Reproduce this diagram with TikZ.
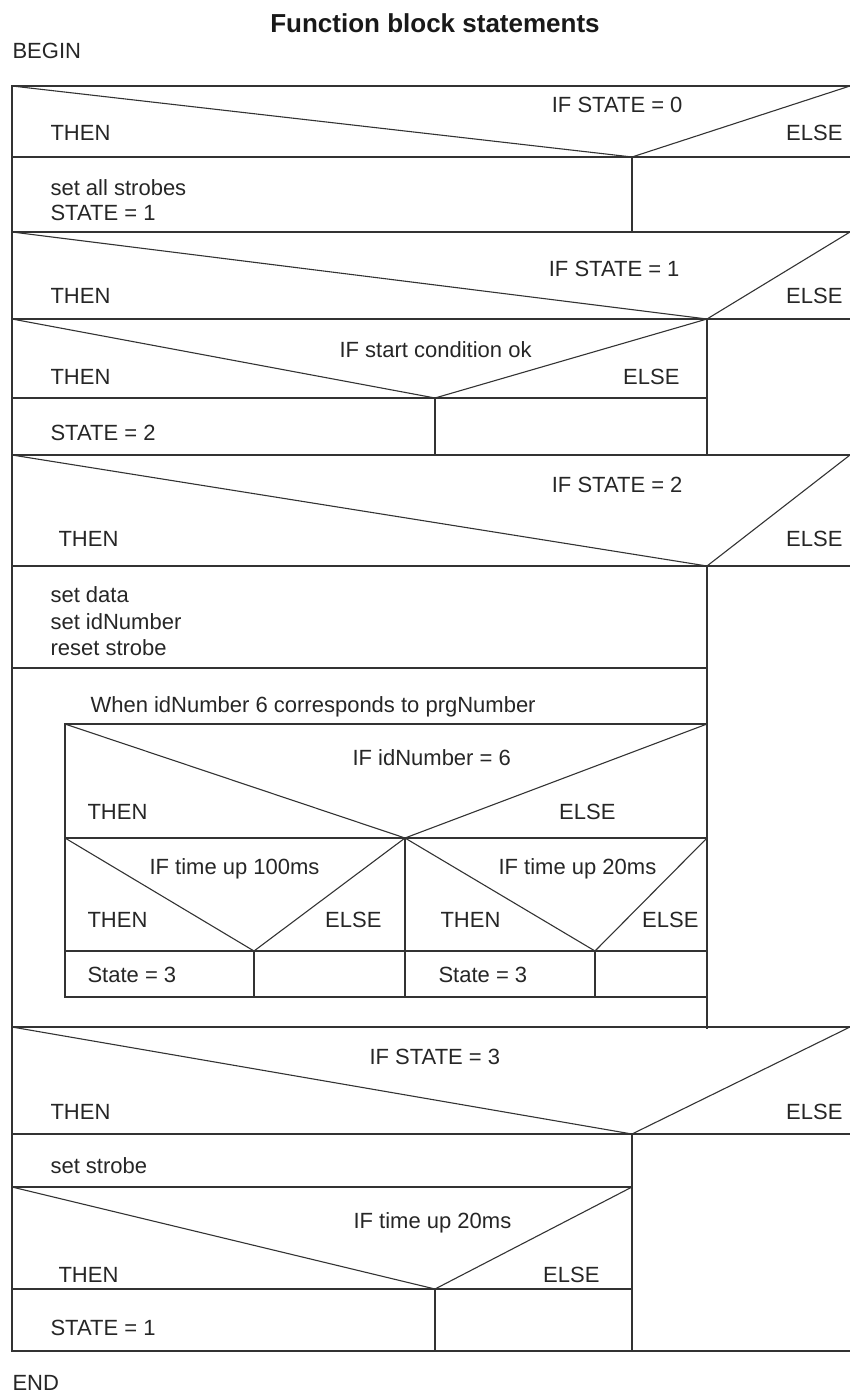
\documentclass[tikz,border=0pt]{standalone}
\usepackage{fontspec}
\setmainfont{Liberation Sans}

\begin{document}
\begin{tikzpicture}[x=1pt,y=-1pt,line width=1.1pt,draw=black!80,
  lbl/.style={anchor=base west,inner sep=0pt,text=black!85,font=\fontsize{22}{26}\selectfont},
  rlbl/.style={lbl,anchor=base east},
  ttl/.style={anchor=base,inner sep=0pt,text=black!90,font=\fontsize{26}{30}\selectfont\bfseries}]
  \useasboundingbox (0,0) rectangle (850,1392);

  \node[ttl] (title) at (435,32) {Function block statements};
  \node[lbl] (begin) at (12,58) {BEGIN};
  \node[lbl] (end) at (12,1390) {END};

  % frame
  \coordinate (TL) at (12,86);
  \coordinate (TR) at (850,86);
  \coordinate (BL) at (12,1351);
  \coordinate (BR) at (850,1351);
  \draw (TR) -- (TL) -- (BL) -- (BR);

  % IF STATE = 0
  \coordinate (IaA) at (632,157);
  \coordinate (IaL) at (12,157);
  \coordinate (IaR) at (850,157);
  \coordinate (IaD) at (632,232);
  \coordinate (IbL) at (12,232);
  \coordinate (IbR) at (850,232);
  \draw (TL) -- (IaA) -- (TR);
  \draw (IaL) -- (IaR);
  \draw (IaA) -- (IaD);
  \draw (IbL) -- (IbR);
  \node[rlbl] (ifa) at (683,112) {IF STATE = 0};
  \node[lbl] (thena) at (50,140) {THEN};
  \node[rlbl] (elsea) at (843,140) {ELSE};
  \node[lbl] (seta) at (50,195) {set all strobes};
  \node[lbl] (stata) at (50,220) {STATE = 1};

  % IF STATE = 1
  \coordinate (IbA) at (707,319);
  \coordinate (IbL1) at (12,319);
  \coordinate (IbR1) at (850,319);
  \coordinate (IcA) at (435,398);
  \coordinate (IcL) at (12,398);
  \coordinate (IcD) at (435,455);
  \coordinate (IbD) at (707,455);
  \coordinate (IdL) at (12,455);
  \coordinate (IdR) at (850,455);
  \draw (IbL) -- (IbA) -- (IbR);
  \draw (IbL1) -- (IbR1);
  \draw (IbL1) -- (IcA) -- (IbA);
  \draw (IcL) -- (IcL -| IbA);
  \draw (IcA) -- (IcD);
  \draw (IbA) -- (IbD);
  \draw (IdL) -- (IdR);
  \node[rlbl] (ifb) at (680,276) {IF STATE = 1};
  \node[lbl] (thenb) at (50,303) {THEN};
  \node[rlbl] (elseb) at (843,303) {ELSE};
  \node[lbl] (ifc) at (339,357) {IF start condition ok};
  \node[lbl] (thenc) at (50,384) {THEN};
  \node[rlbl] (elsec) at (680,384) {ELSE};
  \node[lbl] (statb) at (50,440) {STATE = 2};

  % IF STATE = 2
  \coordinate (IdA) at (707,566);
  \coordinate (IdL1) at (12,566);
  \coordinate (IdR1) at (850,566);
  \coordinate (IdE) at (12,668);
  \coordinate (IdD) at (707,1029);
  \draw (IdL) -- (IdA) -- (IdR);
  \draw (IdL1) -- (IdR1);
  \draw (IdE) -- (IdE -| IdA);
  \draw (IdA) -- (IdD);
  \node[rlbl] (ifd) at (683,492) {IF STATE = 2};
  \node[lbl] (thend) at (58,546) {THEN};
  \node[rlbl] (elsed) at (843,546) {ELSE};
  \node[lbl] (setd) at (50,602) {set data};
  \node[lbl] (setid) at (50,629) {set idNumber};
  \node[lbl] (reset) at (50,655) {reset strobe};
  \node[lbl] (when) at (90,712) {When idNumber 6 corresponds to prgNumber};

  % inner box
  \coordinate (NTL) at (65,724);
  \coordinate (NTR) at (707,724);
  \coordinate (NBL) at (65,997);
  \coordinate (NBR) at (707,997);
  \coordinate (NA) at (405,838);
  \coordinate (NL) at (65,838);
  \coordinate (NR) at (707,838);
  \coordinate (NlA) at (254,951);
  \coordinate (NrA) at (595,951);
  \coordinate (NL1) at (65,951);
  \coordinate (NR1) at (707,951);
  \draw (NTR) -- (NTL) -- (NBL) -- (NBR);
  \draw (NTL) -- (NA) -- (NTR);
  \draw (NL) -- (NR);
  \draw (NL) -- (NlA) -- (NA) -- (NrA) -- (NR);
  \draw (NA) -- (NA |- NBL);
  \draw (NL1) -- (NR1);
  \draw (NlA) -- (NlA |- NBL);
  \draw (NrA) -- (NrA |- NBL);
  \node[lbl] (ifn) at (352,765) {IF idNumber = 6};
  \node[lbl] (thenn) at (87,819) {THEN};
  \node[rlbl] (elsen) at (616,819) {ELSE};
  \node[lbl] (ifnl) at (149,874) {IF time up 100ms};
  \node[lbl] (thennl) at (87,927) {THEN};
  \node[rlbl] (elsenl) at (382,927) {ELSE};
  \node[lbl] (ifnr) at (498,874) {IF time up 20ms};
  \node[lbl] (thennr) at (440,927) {THEN};
  \node[rlbl] (elsenr) at (699,927) {ELSE};
  \node[lbl] (statnl) at (87,982) {State = 3};
  \node[lbl] (statnr) at (438,982) {State = 3};

  % IF STATE = 3
  \coordinate (IeL) at (12,1027);
  \coordinate (IeR) at (850,1027);
  \coordinate (IeA) at (632,1134);
  \coordinate (IeL1) at (12,1134);
  \coordinate (IeR1) at (850,1134);
  \coordinate (IfL) at (12,1187);
  \coordinate (IfA) at (435,1289);
  \coordinate (IfL1) at (12,1289);
  \draw (IeL) -- (IeR);
  \draw (IeL) -- (IeA) -- (IeR);
  \draw (IeL1) -- (IeR1);
  \draw (IfL) -- (IfL -| IeA);
  \draw (IfL) -- (IfA) -- (IfL -| IeA);
  \draw (IfL1) -- (IfL1 -| IeA);
  \draw (IfA) -- (IfA |- BL);
  \draw (IeA) -- (IeA |- BL);
  \node[lbl] (ife) at (369,1064) {IF STATE = 3};
  \node[lbl] (thene) at (50,1119) {THEN};
  \node[rlbl] (elsee) at (843,1119) {ELSE};
  \node[lbl] (sete) at (50,1173) {set strobe};
  \node[lbl] (iff) at (353,1228) {IF time up 20ms};
  \node[lbl] (thenf) at (58,1282) {THEN};
  \node[rlbl] (elsef) at (600,1282) {ELSE};
  \node[lbl] (state) at (50,1335) {STATE = 1};
\end{tikzpicture}
\end{document}
